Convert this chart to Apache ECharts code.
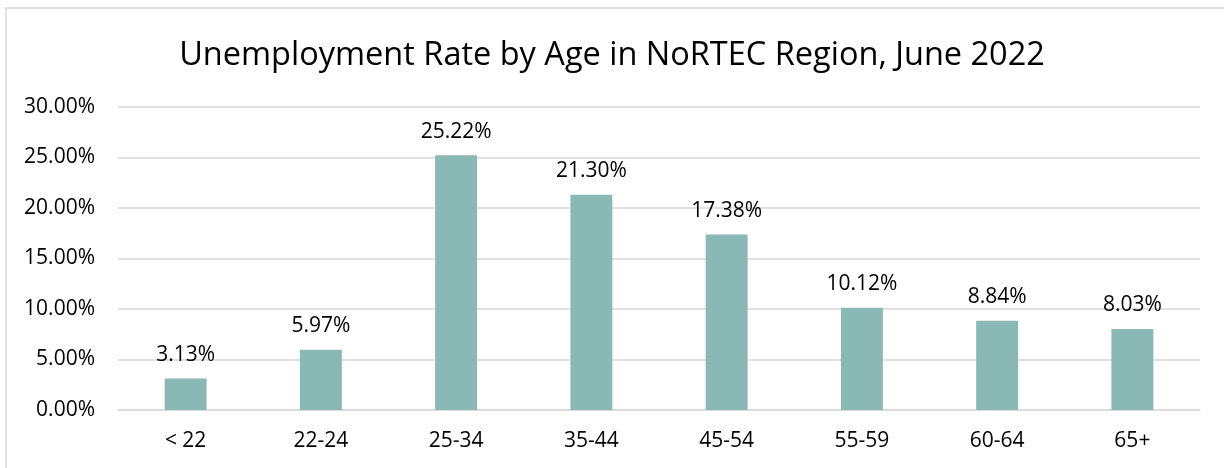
<!DOCTYPE html>
<html>
<head>
<meta charset="utf-8">
<script src="https://cdn.jsdelivr.net/npm/echarts@6/dist/echarts.min.js"></script>
<style>
  html, body { margin: 0; padding: 0; background: #fff; }
  #main { width: 1224px; height: 468px; }
</style>
</head>
<body>
<div id="main"></div>
<script>
var ageGroups = ['< 22', '22-24', '25-34', '35-44', '45-54', '55-59', '60-64', '65+'];
var rates = [3.13, 5.97, 25.22, 21.30, 17.38, 10.12, 8.84, 8.03];

var font = '"Open Sans", "Liberation Sans", sans-serif';

var option = {
    animation: false,
    title: {
        text: 'Unemployment Rate by Age in NoRTEC Region, June 2022',
        left: 'center',
        top: 34,
        padding: [5, 5, 5, 16],
        textStyle: {
            fontFamily: font,
            fontSize: 32.5,
            fontWeight: 'normal',
            color: '#000'
        }
    },
    graphic: [{
        type: 'rect',
        shape: { x: 6, y: 8, width: 1240, height: 480 },
        style: { fill: 'none', stroke: '#d9d9d9', lineWidth: 1.5 },
        silent: true
    }],
    grid: {
        left: 118,
        right: 24,
        top: 107,
        bottom: 58
    },
    xAxis: {
        type: 'category',
        data: ageGroups,
        axisTick: { show: false },
        axisLine: { lineStyle: { color: '#d9d9d9', width: 1.5 } },
        axisLabel: {
            fontFamily: font,
            fontSize: 21,
            color: '#000',
            margin: 21
        }
    },
    yAxis: {
        type: 'value',
        min: 0,
        max: 30,
        interval: 5,
        axisLine: { show: false },
        axisTick: { show: false },
        splitLine: { lineStyle: { color: '#d9d9d9', width: 1.5 } },
        axisLabel: {
            fontFamily: font,
            fontSize: 21,
            color: '#000',
            margin: 23,
            formatter: function (v) { return v.toFixed(2) + '%'; }
        }
    },
    series: [{
        type: 'bar',
        data: rates,
        barWidth: '31%',
        itemStyle: { color: '#8ab8b5' },
        label: {
            show: true,
            position: 'top',
            distance: 13,
            fontFamily: font,
            fontSize: 21,
            color: '#000',
            formatter: function (p) { return p.value.toFixed(2) + '%'; }
        }
    }]
};

var myChart = echarts.init(document.getElementById('main'));
myChart.setOption(option);
</script>
</body>
</html>
